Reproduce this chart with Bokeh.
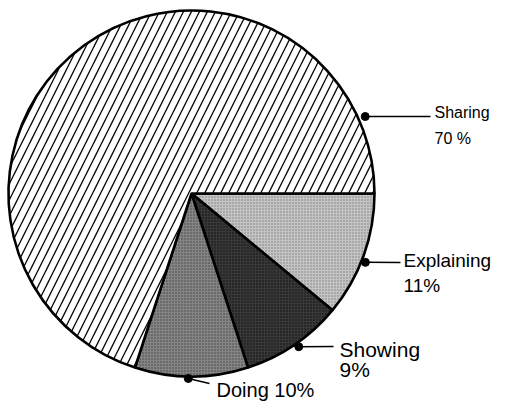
import math
from bokeh.plotting import figure
from bokeh.models import Range1d
from bokeh.core.properties import value
from bokeh.embed import file_html
from bokeh.resources import INLINE

# ---- data ----
categories = ["Explaining", "Showing", "Doing", "Sharing"]
shares = [11, 9, 10, 70]
pct_labels = ["11%", "9%", "10%", "70 %"]

# ---- styles / layout ----
W, H = 491, 402
fills = ["#c4c4c4", "#383838", "#858585", "#ffffff"]
hatches = ["dot", "dot", "dot", "/"]
hatch_colors = ["#7a7a7a", "#0a0a0a", "#404040", "#000000"]
hatch_scales = [3, 3, 3, 16]
cx, cy, R = 191, 209, 183   # pie centre / radius in pixel-like data units

p = figure(width=W, height=H, output_backend="svg", toolbar_location=None,
           x_range=Range1d(0, W), y_range=Range1d(0, H), min_border=0)
p.axis.visible = False
p.grid.visible = False
p.outline_line_color = None
p.background_fill_color = "white"

total = sum(shares)
cum = 0.0
for i, s in enumerate(shares):
    a0 = cum / total * 2 * math.pi
    cum += s
    a1 = cum / total * 2 * math.pi
    # clockwise from 3 o'clock
    p.wedge(x=cx, y=cy, radius=R, start_angle=-a1, end_angle=-a0,
            fill_color=fills[i], line_color="black", line_width=2.6,
            hatch_pattern=hatches[i], hatch_color=hatch_colors[i],
            hatch_scale=hatch_scales[i], hatch_weight=1.3 if hatches[i] == "/" else 1.0)

# leader anchors (angles in degrees, distance from centre) and label layout
anchor_deg = [-21.6, -55.0, -91.0, 23.9]
anchor_r = [187, 187, 185, 190]
line_end = [(400, 140), (333, 56), (209, 19), (430, 286)]
name_pos = [(403, 142), (339, 53), (216, 13), (434, 290)]
pct_pos = [(403, 117), (339, 33), None, (434, 264)]
sizes = ["19px", "21px", "20px", "16px"]
font = value("Liberation Sans")

for i, cat in enumerate(categories):
    ang = math.radians(anchor_deg[i])
    dx = cx + anchor_r[i] * math.cos(ang)
    dy = cy + anchor_r[i] * math.sin(ang)
    ex, ey = line_end[i]
    p.line([dx, ex], [dy, ey], line_color="black", line_width=1.5)
    p.scatter([dx], [dy], size=8, fill_color="black", line_color="black")
    txt = cat + " " + pct_labels[i] if pct_pos[i] is None else cat
    nx, ny = name_pos[i]
    p.text([nx], [ny], text=[txt], text_font=font, text_font_size=sizes[i],
           text_align="left", text_baseline="alphabetic", text_color="black")
    if pct_pos[i] is not None:
        qx, qy = pct_pos[i]
        p.text([qx], [qy], text=[pct_labels[i]], text_font=font, text_font_size=sizes[i],
               text_align="left", text_baseline="alphabetic", text_color="black")

open("out.html", "w").write(file_html(p, INLINE))
